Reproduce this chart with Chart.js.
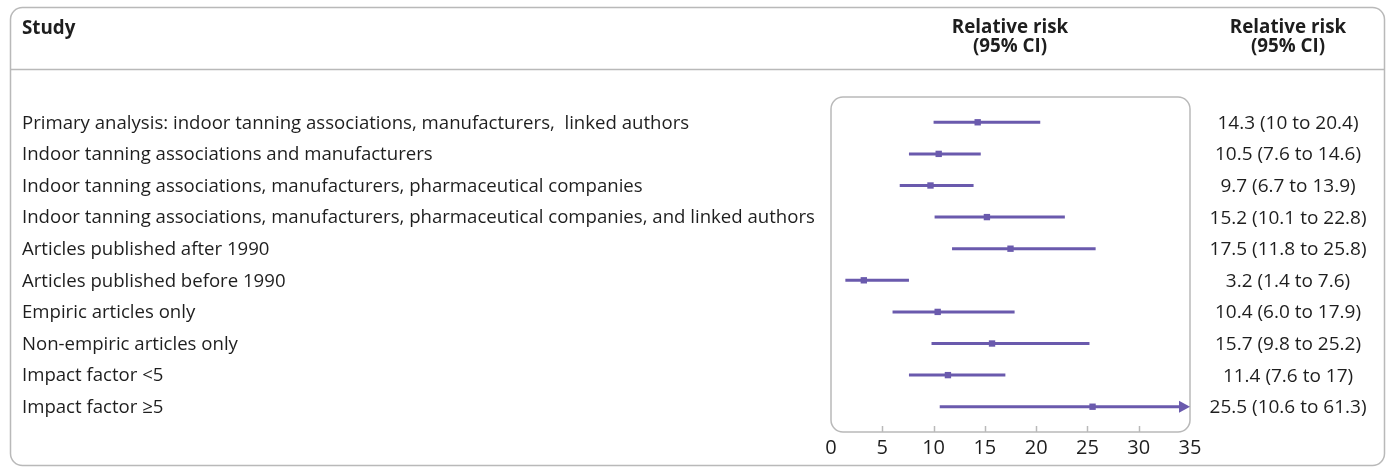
<!DOCTYPE html>
<html>
<head>
<meta charset="utf-8">
<script src="https://cdn.jsdelivr.net/npm/chart.js@4"></script>
<style>
  html, body { margin: 0; padding: 0; background: #fff; }
  #wrap { width: 1390px; height: 468px; position: relative; }
</style>
</head>
<body>
<div id="wrap"><canvas id="c" width="1390" height="468"></canvas></div>
<script>
// ---- data ----
const studies = [
  "Primary analysis: indoor tanning associations, manufacturers,  linked authors",
  "Indoor tanning associations and manufacturers",
  "Indoor tanning associations, manufacturers, pharmaceutical companies",
  "Indoor tanning associations, manufacturers, pharmaceutical companies, and linked authors",
  "Articles published after 1990",
  "Articles published before 1990",
  "Empiric articles only",
  "Non-empiric articles only",
  "Impact factor <5",
  "Impact factor \u22655"
];
const relRisk = [14.3, 10.5, 9.7, 15.2, 17.5, 3.2, 10.4, 15.7, 11.4, 25.5];
const ciLow   = [10, 7.6, 6.7, 10.1, 11.8, 1.4, 6.0, 9.8, 7.6, 10.6];
const ciHigh  = [20.4, 14.6, 13.9, 22.8, 25.8, 7.6, 17.9, 25.2, 17, 61.3];
const ciLabels = [
  "14.3 (10 to 20.4)", "10.5 (7.6 to 14.6)", "9.7 (6.7 to 13.9)", "15.2 (10.1 to 22.8)",
  "17.5 (11.8 to 25.8)", "3.2 (1.4 to 7.6)", "10.4 (6.0 to 17.9)", "15.7 (9.8 to 25.2)",
  "11.4 (7.6 to 17)", "25.5 (10.6 to 61.3)"
];
const xTicks = [0, 5, 10, 15, 20, 25, 30, 35];
const headerStudy = "Study";
const headerRR = ["Relative risk", "(95% CI)"];

// ---- style ----
const PURPLE = "#6a5aad";
const GREY = "#b9b9b9";
const TEXT = "#1e1e1e";
const FONT = "'Open Sans'";

const points = relRisk.map((v, i) => ({ x: v, y: i }));

const forestPlugin = {
  id: "forest",
  beforeDraw(chart) {
    const ctx = chart.ctx;
    const ca = chart.chartArea;
    ctx.save();
    ctx.strokeStyle = GREY;
    ctx.lineWidth = 1.5;
    ctx.beginPath();
    ctx.roundRect(10.5, 7.5, 1374, 458, 12);
    ctx.stroke();
    ctx.beginPath();
    ctx.moveTo(10.5, 69.5);
    ctx.lineTo(1384.5, 69.5);
    ctx.stroke();
    ctx.beginPath();
    ctx.roundRect(ca.left, ca.top, ca.right - ca.left, ca.bottom - ca.top, 12);
    ctx.stroke();
    const xs = chart.scales.x;
    xTicks.forEach(t => {
      if (t === xTicks[0] || t === xTicks[xTicks.length - 1]) return;
      const px = Math.round(xs.getPixelForValue(t)) + 0.5;
      ctx.beginPath();
      ctx.moveTo(px, ca.bottom);
      ctx.lineTo(px, ca.bottom - 6);
      ctx.stroke();
    });
    ctx.restore();
  },
  beforeDatasetsDraw(chart) {
    const ctx = chart.ctx;
    const xs = chart.scales.x, ys = chart.scales.y;
    ctx.save();
    ctx.strokeStyle = PURPLE;
    ctx.fillStyle = PURPLE;
    ctx.lineWidth = 3;
    for (let i = 0; i < relRisk.length; i++) {
      const py = ys.getPixelForValue(i);
      const x0 = xs.getPixelForValue(ciLow[i]);
      const over = ciHigh[i] > xs.max;
      const x1 = xs.getPixelForValue(Math.min(ciHigh[i], xs.max));
      ctx.beginPath();
      ctx.moveTo(x0, py);
      ctx.lineTo(over ? x1 - 8 : x1, py);
      ctx.stroke();
      if (over) {
        ctx.beginPath();
        ctx.moveTo(x1, py);
        ctx.lineTo(x1 - 11, py - 6);
        ctx.lineTo(x1 - 11, py + 6);
        ctx.closePath();
        ctx.fill();
      }
    }
    ctx.restore();
  },
  afterDraw(chart) {
    const ctx = chart.ctx;
    const ys = chart.scales.y;
    ctx.save();
    ctx.fillStyle = TEXT;
    ctx.textBaseline = "middle";
    ctx.font = "bold 18.8px " + FONT;
    ctx.textAlign = "left";
    ctx.fillText(headerStudy, 22, 29);
    ctx.textAlign = "center";
    ctx.fillText(headerRR[0], 1010, 28);
    ctx.fillText(headerRR[1], 1010, 47);
    ctx.fillText(headerRR[0], 1288, 28);
    ctx.fillText(headerRR[1], 1288, 47);
    for (let i = 0; i < studies.length; i++) {
      const py = ys.getPixelForValue(i) + 1;
      ctx.font = "18.6px " + FONT;
      ctx.textAlign = "left";
      ctx.fillText(studies[i], 22, py);
      ctx.font = "19px " + FONT;
      ctx.textAlign = "center";
      ctx.fillText(ciLabels[i], 1288, py);
    }
    ctx.restore();
  }
};

new Chart(document.getElementById("c"), {
  type: "scatter",
  data: {
    datasets: [{
      data: points,
      pointStyle: "rect",
      pointRadius: 4.5,
      pointHoverRadius: 4.5,
      backgroundColor: PURPLE,
      borderColor: PURPLE,
      borderWidth: 0
    }]
  },
  options: {
    responsive: false,
    animation: false,
    devicePixelRatio: 1,
    layout: { padding: { left: 831, right: 200, top: 97, bottom: 0 } },
    plugins: { legend: { display: false }, tooltip: { enabled: false } },
    scales: {
      x: {
        type: "linear",
        min: xTicks[0],
        max: xTicks[xTicks.length - 1],
        afterBuildTicks: (s) => { s.ticks = xTicks.map(v => ({ value: v })); },
        afterFit: (s) => { s.height = 36; },
        grid: { display: false, drawTicks: false },
        border: { display: false },
        ticks: { color: TEXT, font: { family: "Open Sans", size: 20 }, padding: 4, maxRotation: 0 }
      },
      y: {
        type: "linear",
        display: false,
        reverse: true,
        min: -0.8,
        max: 9.8
      }
    }
  },
  plugins: [forestPlugin]
});
</script>
</body>
</html>
